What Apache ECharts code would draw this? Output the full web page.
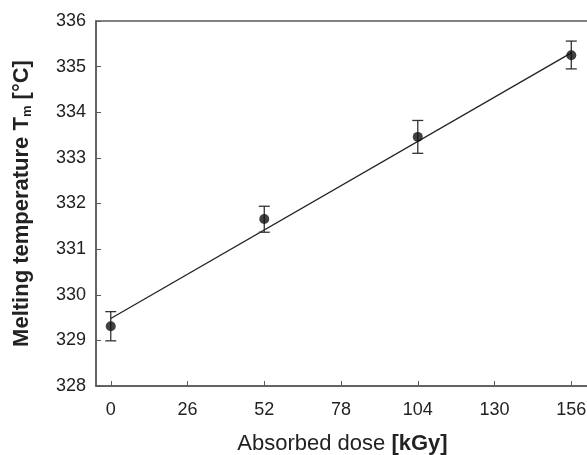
<!doctype html>
<html>
<head>
<meta charset="UTF-8">
<title>Melting temperature vs absorbed dose</title>
<script src="https://cdn.jsdelivr.net/npm/echarts@6/dist/echarts.min.js"></script>
<style>
    html, body { margin: 0; padding: 0; background: #fff; }
    #chart { width: 587px; height: 455px; }
</style>
</head>
<body>
<div id="chart"></div>
<script>
// 数据
var doses = [0, 52, 104, 156];
var meltTemp = [329.31, 331.66, 333.46, 335.25];
var errLow = [328.99, 331.37, 333.10, 334.95];
var errHigh = [329.63, 331.94, 333.82, 335.56];
var fitX = [0, 156];
var fitY = [329.48, 335.30];
var xTicks = [0, 26, 52, 78, 104, 130, 156];

var points = doses.map(function (d, i) { return [d, meltTemp[i]]; });
var bars = doses.map(function (d, i) { return [d, errLow[i], errHigh[i]]; });
var fitLine = fitX.map(function (d, i) { return [d, fitY[i]]; });

var axisColor = '#5a5a5a';
var txt = '#222';

var myChart = echarts.init(document.getElementById('chart'));
var option = {
    animation: false,
    grid: {
        left: 96,
        top: 21,
        width: 493,
        height: 365,
        outerBoundsMode: 'none',
        show: true,
        borderColor: axisColor,
        borderWidth: 1.5
    },
    xAxis: {
        type: 'value',
        min: -5,
        max: 162,
        axisLine: { show: true, onZero: false, lineStyle: { color: axisColor, width: 1.5 } },
        axisTick: { show: true, inside: true, length: 5, customValues: xTicks, lineStyle: { color: axisColor } },
        axisLabel: { customValues: xTicks, color: txt, fontSize: 18, fontFamily: 'Liberation Sans', margin: 15 },
        splitLine: { show: false },
        name: '{n|Absorbed dose }{b|[kGy]}',
        nameLocation: 'middle',
        nameGap: 47,
        nameTextStyle: {
            rich: {
                n: { fontSize: 22, color: txt, fontFamily: 'Liberation Sans' },
                b: { fontSize: 22, color: txt, fontWeight: 'bold', fontFamily: 'Liberation Sans' }
            }
        }
    },
    yAxis: {
        type: 'value',
        min: 328,
        max: 336,
        interval: 1,
        axisLine: { show: true, onZero: false, lineStyle: { color: axisColor, width: 1.5 } },
        axisTick: { show: true, inside: true, length: 5, lineStyle: { color: axisColor } },
        axisLabel: { color: txt, fontSize: 18, fontFamily: 'Liberation Sans', margin: 10 },
        splitLine: { show: false },
        name: '{b|Melting temperature T}{s|m}{b| [°C]}',
        nameLocation: 'middle',
        nameGap: 62,
        nameRotate: 90,
        nameTextStyle: {
            rich: {
                b: { fontSize: 22, color: txt, fontWeight: 'bold', fontFamily: 'Liberation Sans' },
                s: { fontSize: 13, color: txt, fontWeight: 'bold', fontFamily: 'Liberation Sans', padding: [11, 0, 0, 0] }
            }
        }
    },
    series: [
        {
            type: 'line',
            data: fitLine,
            symbol: 'none',
            lineStyle: { color: '#222', width: 1.3 },
            z: 2
        },
        {
            type: 'custom',
            data: bars,
            renderItem: function (params, api) {
                var x = api.value(0);
                var lo = api.coord([x, api.value(1)]);
                var hi = api.coord([x, api.value(2)]);
                var w = 5.5;
                var style = { stroke: '#333', lineWidth: 1.3 };
                return {
                    type: 'group',
                    children: [
                        { type: 'line', shape: { x1: lo[0], y1: lo[1], x2: hi[0], y2: hi[1] }, style: style },
                        { type: 'line', shape: { x1: lo[0] - w, y1: lo[1], x2: lo[0] + w, y2: lo[1] }, style: style },
                        { type: 'line', shape: { x1: hi[0] - w, y1: hi[1], x2: hi[0] + w, y2: hi[1] }, style: style }
                    ]
                };
            },
            z: 3
        },
        {
            type: 'scatter',
            data: points,
            symbol: 'circle',
            symbolSize: 10,
            itemStyle: { color: '#111' },
            z: 4
        }
    ]
};
myChart.setOption(option);
</script>
</body>
</html>
